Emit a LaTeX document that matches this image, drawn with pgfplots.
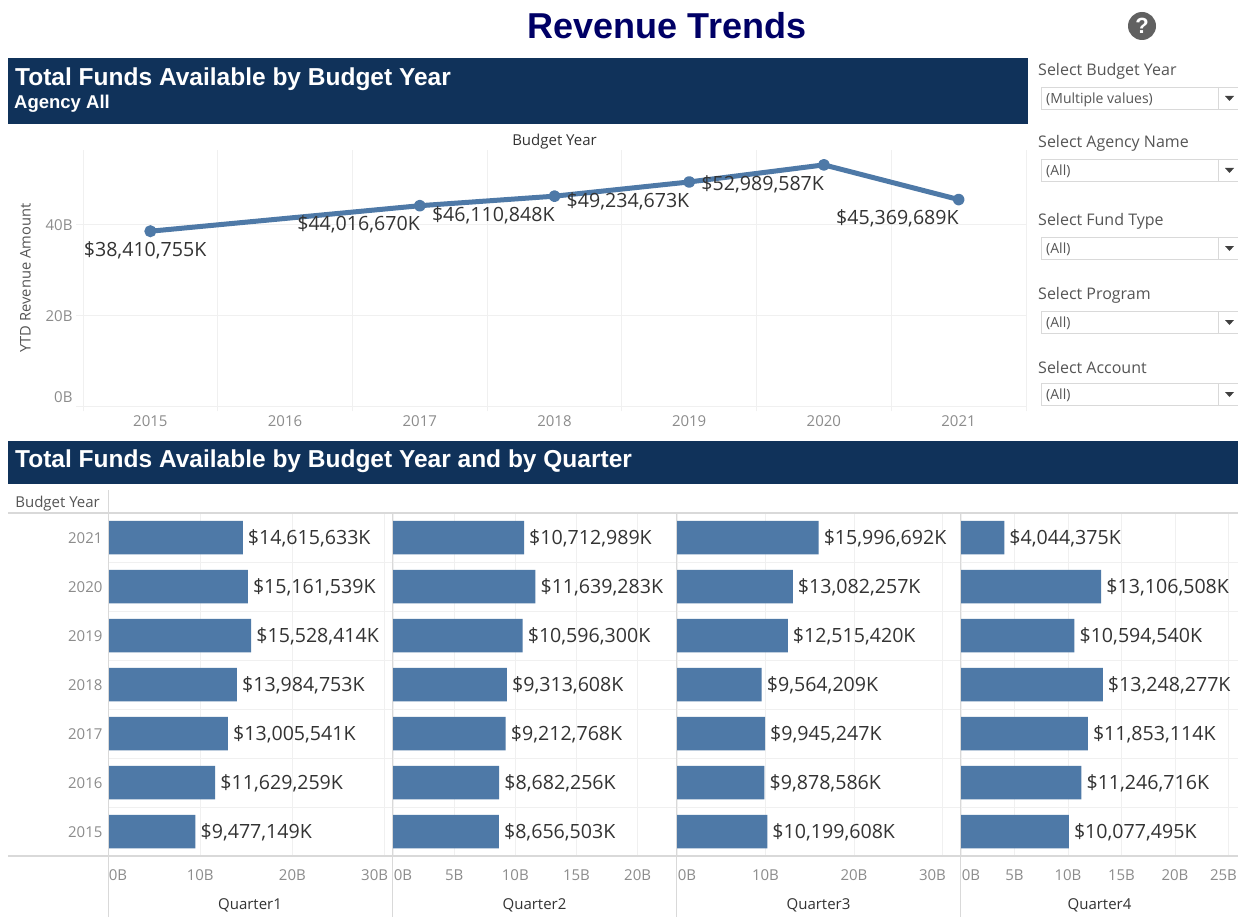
\documentclass[border=0pt]{standalone}
\usepackage{fontspec}
\usepackage{pgfplots}
\pgfplotsset{compat=1.18}
\setmainfont{Open Sans}
\newfontfamily\arialf{Liberation Sans}
\definecolor{HeadNavy}{HTML}{10325A}
\definecolor{TitleNavy}{HTML}{000066}
\definecolor{BarBlue}{HTML}{4E79A7}
\definecolor{GridGrey}{HTML}{F0F0F0}
\definecolor{RuleGrey}{HTML}{D9D9D9}
\definecolor{TickGrey}{HTML}{8C8C8C}
\definecolor{LabelDark}{HTML}{333333}
\definecolor{SoftDark}{HTML}{555555}
\newcommand{\fs}[1]{\fontsize{#1}{#1}\selectfont}
\newcommand{\dropdown}[3]{%
  \node[anchor=west,inner sep=0,text=SoftDark,font=\fs{16}] at (1038,#1+1.5) {#2};
  \draw[RuleGrey,fill=white] (1041,#1+17) rectangle (1240,#1+39);
  \draw[RuleGrey] (1218,#1+17) -- (1218,#1+39);
  \fill[black!75] (1225,#1+26) -- (1234,#1+26) -- (1229.5,#1+31) -- cycle;
  \node[anchor=west,inner sep=0,text=SoftDark,font=\fs{14}] at (1046,#1+29.5) {#3};
}
\pgfplotsset{
  quarter/.style={
    scale only axis,
    xbar,
    bar width=33.5pt,
    bar shift=0pt,
    height=343pt,
    ymin=2014.5, ymax=2021.5,
    ytick={2015,...,2021},
    yticklabels={},
    minor ytick={2015.5,2016.5,2017.5,2018.5,2019.5,2020.5},
    xmin=0,
    axis line style={draw=none},
    major tick length=0pt,
    minor tick length=0pt,
    xmajorgrids=true,
    ymajorgrids=false,
    yminorgrids=true,
    major grid style={GridGrey,line width=0.9pt},
    minor grid style={GridGrey,line width=0.9pt},
    tick label style={font=\fs{15},text=TickGrey},
    xticklabel style={yshift=-10pt},
    xlabel style={font=\fs{15},text=LabelDark,yshift=-11pt},
    point meta=explicit symbolic,
    nodes near coords,
    every node near coord/.append style={font=\fs{19.6},text=LabelDark,inner sep=0pt,anchor=west,xshift=5pt,yshift=-0.8pt},
    clip=false,
  },
  qbars/.style={fill=BarBlue,draw=none},
}
\begin{document}
\begin{tikzpicture}
\useasboundingbox (0pt,0pt) rectangle (1238pt,-917pt);
\begin{scope}[x=1pt,y=-1pt]
\fill[white] (0,0) rectangle (1238,917);
\node[text=TitleNavy,font=\arialf\bfseries\fs{36}] at (667,26) {Revenue Trends};
\fill[black!62] (1142,26) circle (14);
\node[text=white,font=\arialf\bfseries\fs{22}] at (1142,26) {?};
\fill[HeadNavy] (8,58) rectangle (1028,124);
\node[anchor=west,inner sep=0,text=white,font=\arialf\bfseries\fs{24.5}] at (15,79) {Total Funds Available by Budget Year};
\node[anchor=west,inner sep=0,text=white,font=\arialf\bfseries\fs{18.5}] at (14,104) {Agency All};
\fill[HeadNavy] (8,441) rectangle (1238,484);
\node[anchor=west,inner sep=0,text=white,font=\arialf\bfseries\fs{24.5}] at (15,461) {Total Funds Available by Budget Year and by Quarter};
\dropdown{70}{Select Budget Year}{(Multiple values)}
\dropdown{142}{Select Agency Name}{(All)}
\dropdown{220}{Select Fund Type}{(All)}
\dropdown{294}{Select Program}{(All)}
\dropdown{366}{Select Account}{(All)}
\node[anchor=east,inner sep=0,text=SoftDark,font=\fs{15}] at (100,504) {Budget Year};
\end{scope}

% line panel
\begin{axis}[
  at={(83pt,-406pt)}, anchor=south west,
  scale only axis,
  width=943pt, height=256pt,
  xmin=2014.5, xmax=2021.5,
  ymin=0, ymax=56.26,
  xtick={2015,...,2021},
  xticklabels={2015,2016,2017,2018,2019,2020,2021},
  minor xtick={2014.5,2015.5,2016.5,2017.5,2018.5,2019.5,2020.5,2021.5},
  ytick={0,20,40},
  yticklabels={\raisebox{20pt}{0B},20B,40B},
  axis lines=left,
  axis line style={-,draw=GridGrey,line width=0.9pt},
  tick align=outside,
  major x tick style={draw=none},
  minor x tick style={GridGrey,line width=0.9pt},
  major y tick style={GridGrey,line width=0.9pt},
  major tick length=7pt,
  minor tick length=5pt,
  xminorgrids=true,
  ymajorgrids=true,
  major grid style={GridGrey,line width=0.9pt},
  minor grid style={GridGrey,line width=0.9pt},
  tick label style={font=\fs{15},text=TickGrey},
  xticklabel style={yshift=1pt},
  yticklabel style={yshift=-1pt},
  ylabel={YTD Revenue Amount},
  ylabel style={font=\fs{14.7},text=SoftDark,yshift=8pt},
  title={Budget Year},
  title style={font=\fs{15},text=LabelDark,yshift=-9pt},
  clip=false,
  point meta=explicit symbolic,
]
\addplot[BarBlue,line width=5pt,forget plot] coordinates {(2015,38.410755) (2017,44.016670)};
\addplot[BarBlue,line width=5pt,line join=round,mark=*,mark size=3.4pt,
  mark options={draw=none,fill=BarBlue},
  nodes near coords,
  every node near coord/.append style={font=\fs{19.6},text=LabelDark,inner sep=0pt,anchor=east,yshift=-19pt,xshift=2.5pt}]
  coordinates {
  (2017,44.016670) [\$44,016,670K]
  (2018,46.110848) [\$46,110,848K]
  (2019,49.234673) [\$49,234,673K]
  (2020,52.989587) [\$52,989,587K]
  (2021,45.369689) [\$45,369,689K]
};
\addplot[BarBlue,line width=5pt,mark=*,mark size=3.4pt,
  mark options={draw=none,fill=BarBlue},
  nodes near coords,
  every node near coord/.append style={font=\fs{19.6},text=LabelDark,inner sep=0pt,anchor=east,yshift=-19pt,xshift=58.5pt}]
  coordinates {
  (2015,38.410755) [\$38,410,755K]
};
\end{axis}

% quarter panels
\begin{axis}[quarter,
  at={(108pt,-856pt)}, anchor=south west,
  width=284pt, xmax=30.8,
  xtick={0,10,20,30},
  xticklabels={\hspace*{20pt}0B,10B,20B,\hspace*{-20pt}30B},
  yticklabels={2015,2016,2017,2018,2019,2020,2021},
  yticklabel style={xshift=-2pt,yshift=-0.8pt},
  xlabel={Quarter1},
]
\addplot[qbars] coordinates {
  (9.477149,2015) [\$9,477,149K]
  (11.629259,2016) [\$11,629,259K]
  (13.005541,2017) [\$13,005,541K]
  (13.984753,2018) [\$13,984,753K]
  (15.528414,2019) [\$15,528,414K]
  (15.161539,2020) [\$15,161,539K]
  (14.615633,2021) [\$14,615,633K]
};
\end{axis}
\begin{axis}[quarter,
  at={(393pt,-856pt)}, anchor=south west,
  width=283pt, xmax=23.14,
  xtick={0,5,10,15,20},
  xticklabels={\hspace*{20pt}0B,5B,10B,15B,20B},
  xlabel={Quarter2},
]
\addplot[qbars] coordinates {
  (8.656503,2015) [\$8,656,503K]
  (8.682256,2016) [\$8,682,256K]
  (9.212768,2017) [\$9,212,768K]
  (9.313608,2018) [\$9,313,608K]
  (10.596300,2019) [\$10,596,300K]
  (11.639283,2020) [\$11,639,283K]
  (10.712989,2021) [\$10,712,989K]
};
\end{axis}
\begin{axis}[quarter,
  at={(677pt,-856pt)}, anchor=south west,
  width=283pt, xmax=31.98,
  xtick={0,10,20,30},
  xticklabels={\hspace*{20pt}0B,10B,20B,\hspace*{-20pt}30B},
  xlabel={Quarter3},
]
\addplot[qbars] coordinates {
  (10.199608,2015) [\$10,199,608K]
  (9.878586,2016) [\$9,878,586K]
  (9.945247,2017) [\$9,945,247K]
  (9.564209,2018) [\$9,564,209K]
  (12.515420,2019) [\$12,515,420K]
  (13.082257,2020) [\$13,082,257K]
  (15.996692,2021) [\$15,996,692K]
};
\end{axis}
\begin{axis}[quarter,
  at={(961pt,-856pt)}, anchor=south west,
  width=277pt, xmax=25.89,
  xtick={0,5,10,15,20,25},
  xticklabels={\hspace*{20pt}0B,5B,10B,15B,20B,\hspace*{-10pt}25B},
  xlabel={Quarter4},
]
\addplot[qbars] coordinates {
  (10.077495,2015) [\$10,077,495K]
  (11.246716,2016) [\$11,246,716K]
  (11.853114,2017) [\$11,853,114K]
  (13.248277,2018) [\$13,248,277K]
  (10.594540,2019) [\$10,594,540K]
  (13.106508,2020) [\$13,106,508K]
  (4.044375,2021) [\$4,044,375K]
};
\end{axis}

\begin{scope}[x=1pt,y=-1pt]
\draw[RuleGrey,line width=1.2pt] (8,513) -- (1238,513);
\draw[RuleGrey,line width=1.2pt] (8,856) -- (1238,856);
\draw[RuleGrey,line width=1pt] (108,490) -- (108,917);
\draw[RuleGrey,line width=1pt] (392,513) -- (392,917);
\draw[RuleGrey,line width=1pt] (676,513) -- (676,917);
\draw[RuleGrey,line width=1pt] (960,513) -- (960,917);
\end{scope}
\end{tikzpicture}
\end{document}
